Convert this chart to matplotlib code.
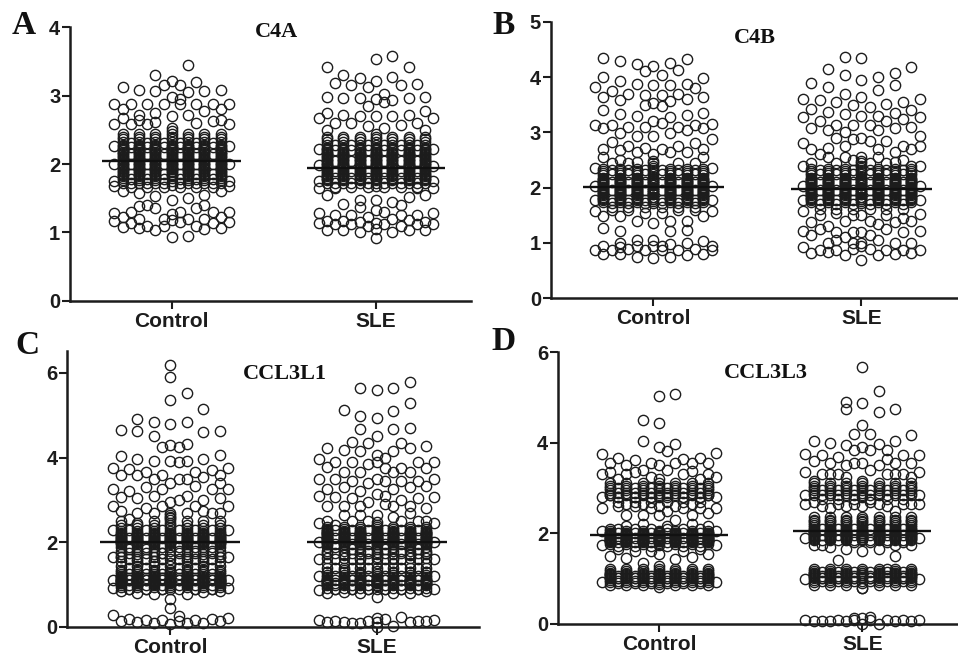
import matplotlib
matplotlib.use("Agg")
import matplotlib.pyplot as plt

W, H = 958, 656
categories = ["Control", "SLE"]
means = {"A": [2.05, 1.94], "B": [2.01, 1.98], "C": [2.0, 2.0], "D": [1.95, 2.06]}
titles = {"A": "C4A", "B": "C4B", "C": "CCL3L1", "D": "CCL3L3"}

# Each group: 15 swarm columns, left to right, holding the readable values
A_control = [
 [2.88,2.58,2.27,2.0,1.75,1.68,1.29,1.16],[3.12,2.8,2.67,1.6,1.22,1.08],[2.88,2.58,1.3,1.13],[3.08,2.72,2.65,1.58,1.38,1.2,1.06],
 [2.88,2.58,1.4,1.1],[3.3,3.07,2.75,2.62,1.53,1.35,1.04],[3.15,2.88,1.2,1.1],[3.22,2.98,2.7,1.47,1.27,1.18,0.93],
 [3.15,2.95,2.88,1.3,1.15],[3.45,3.05,2.72,1.5,1.2,0.95],[3.2,2.88,2.6,1.35,1.1],[3.07,2.78,1.55,1.4,1.2,1.05],
 [2.88,2.63,1.3,1.13],[3.08,2.8,2.65,1.6,1.22,1.07],[2.88,2.58,2.27,2.0,1.75,1.68,1.3,1.15]]
A_control_even = [1.72,1.76,1.8,1.84,1.88,1.92,1.96,2.0,2.04,2.08,2.12,2.16,2.2,2.24,2.28,2.32,2.36,2.4,2.44]
A_control_mid = [1.7,1.75,1.8,1.84,1.88,1.92,1.96,2.0,2.04,2.08,2.12,2.16,2.2,2.24,2.28,2.32,2.36,2.4,2.44,2.48,2.52]
A_control_odd = [1.66,1.72,1.78,1.85,2.0,2.15,2.25,2.3]
A_control_fill = [1.82,1.86,1.9,1.94,1.98,2.02,2.06,2.1,2.14,2.18,2.22,2.26]

A_sle = [
 [2.68,2.22,1.98,1.75,1.65,1.28,1.13],[3.42,2.98,2.75,2.5,1.55,1.17,1.04],[3.18,2.6,1.65,1.25,1.12],[3.3,2.97,2.72,1.42,1.17,1.03],
 [3.15,2.6,1.25,1.12],[3.26,2.96,2.7,1.48,1.37,1.15,1.0],[3.12,2.85,2.55,1.22,1.1],[3.54,3.21,2.95,2.7,1.47,1.32,1.13,1.05,0.92],
 [3.02,2.9,2.52,1.3,1.12],[3.58,3.28,2.94,2.7,1.45,1.2,1.0],[3.16,2.57,1.4,1.25,1.1],[3.42,2.96,2.72,1.52,1.18,1.03],
 [3.17,2.6,1.65,1.25,1.12],[2.98,2.77,2.5,1.55,1.15,1.04],[2.67,2.22,1.97,1.75,1.65,1.29,1.12]]
A_sle_even = [1.72,1.76,1.8,1.84,1.88,1.92,1.96,2.0,2.04,2.08,2.12,2.16,2.2,2.24,2.28,2.32,2.36,2.4]
A_sle_mid = [1.68,1.72,1.76,1.8,1.84,1.88,1.92,1.96,2.0,2.04,2.08,2.12,2.16,2.2,2.24,2.28,2.32,2.36,2.4,2.44]
A_sle_odd = [1.66,1.72,1.8,1.9,2.05,2.2,2.28]
A_sle_fill = [1.78,1.82,1.86,1.9,1.94,1.98,2.02,2.06,2.1,2.14,2.18,2.22]

B_control = [
 [3.82,3.14,2.36,2.03,1.77,1.58,0.88],[4.35,4.0,3.63,3.4,3.07,2.7,2.55,1.48,1.27,0.95,0.8],[3.75,3.13,2.83,2.45,1.6,0.87],[4.29,3.92,3.58,3.34,2.98,2.68,2.5,1.48,1.22,1.0,0.92,0.8],
 [3.7,3.1,2.75,2.45,1.6,0.9],[4.23,3.87,3.3,2.93,2.65,2.47,1.4,1.05,0.95,0.74],[4.11,3.68,3.49,3.1,2.72,1.55,0.87],[4.2,3.86,3.53,3.2,2.93,2.6,1.37,1.05,0.95,0.72],
 [4.03,3.68,3.47,3.17,2.7,1.55,0.95,0.87],[4.25,3.86,3.57,3.28,2.98,2.65,1.4,1.22,0.98,0.74],[4.12,3.7,3.1,2.75,2.45,1.6,0.87],[4.32,3.87,3.6,3.31,3.05,2.65,1.4,1.23,1.0,0.78],
 [3.8,3.13,2.8,2.45,1.6,0.9],[3.98,3.63,3.35,3.07,2.7,2.55,1.48,1.03,0.8],[3.15,2.88,2.35,2.03,1.77,1.58,0.95,0.88]]
B_control_even = [1.74,1.78,1.82,1.86,1.9,1.94,1.98,2.02,2.06,2.1,2.14,2.18,2.22,2.26,2.3,2.34]
B_control_mid = [1.72,1.76,1.8,1.84,1.88,1.92,1.96,2.0,2.04,2.08,2.12,2.16,2.2,2.24,2.28,2.32,2.36,2.4,2.44,2.48]
B_control_odd = [1.65,1.72,1.78,1.95,2.1,2.25,2.32]
B_control_fill = [1.8,1.84,1.88,1.92,1.96,2.0,2.04,2.08,2.12,2.16]

B_sle = [
 [3.6,3.27,2.81,2.4,2.03,1.77,1.58,1.22,0.93],[3.9,3.42,3.08,2.7,2.45,1.38,1.15,0.82],[3.58,3.2,2.6,1.5,1.25,0.87],[4.15,3.82,3.37,3.05,2.72,2.55,1.3,1.0,0.83],
 [3.55,3.13,2.9,2.45,1.55,1.2,1.05,0.88],[4.37,4.03,3.7,3.33,3.0,2.75,2.55,1.4,1.1,0.78],[3.5,3.13,2.88,2.5,1.5,1.2,1.0,0.9],[4.35,3.95,3.63,3.3,2.9,2.55,1.5,1.2,1.0,0.95,0.7],
 [3.45,3.13,2.85,2.45,1.4,1.15,0.9],[4.0,3.76,3.3,3.05,2.7,2.55,1.35,1.05,0.78],[3.52,3.2,2.85,2.45,1.5,1.25,0.87],[4.08,3.85,3.35,3.07,2.65,2.47,1.38,1.0,0.8],
 [3.55,3.25,2.75,2.5,1.45,1.2,0.87],[4.18,3.4,3.1,2.7,2.4,1.4,1.0,0.82],[3.6,3.28,2.93,2.75,2.4,2.03,1.77,1.53,1.22,0.88]]
B_sle_even = [1.74,1.78,1.82,1.86,1.9,1.94,1.98,2.02,2.06,2.1,2.14,2.18,2.22,2.26,2.3,2.34]
B_sle_mid = [1.72,1.76,1.8,1.84,1.88,1.92,1.96,2.0,2.04,2.08,2.12,2.16,2.2,2.24,2.28,2.32,2.36,2.4,2.44,2.48]
B_sle_odd = [1.62,1.7,1.78,1.95,2.1,2.25,2.32]
B_sle_fill = [1.8,1.84,1.88,1.92,1.96,2.0,2.04,2.08,2.12,2.16]

C_control = [
 [3.75,3.25,2.85,2.3,1.65,1.1,0.92,0.28],[4.65,4.03,3.6,3.07,2.75,2.5,1.65,1.2,0.85,0.15],[3.73,3.2,2.55,1.85,1.1,0.9,0.18],[4.9,4.63,3.96,3.6,3.05,2.7,2.45,1.6,1.15,0.8,0.12],
 [3.65,3.3,2.8,1.85,1.1,0.9,0.17],[4.83,4.52,3.92,3.5,3.1,2.7,2.5,1.55,1.2,0.78,0.1],[4.25,3.6,3.25,2.85,1.75,1.15,0.9,0.17],[6.18,5.9,5.37,4.8,4.3,3.92,3.4,2.95,2.7,2.6,1.5,0.65,0.45,0.08],
 [4.25,3.9,3.5,3.0,1.8,1.1,0.27,0.15],[5.53,4.83,4.33,3.93,3.5,3.1,2.7,2.5,1.6,0.78,0.1],[3.65,3.33,2.85,1.8,1.1,0.9,0.16],[5.15,4.6,3.97,3.55,3.0,2.75,2.5,1.6,0.82,0.1],
 [3.7,3.25,2.7,1.8,1.1,0.9,0.2],[4.63,4.05,3.6,3.4,3.05,2.7,2.5,1.65,0.85,0.15],[3.75,3.25,2.85,2.3,1.65,1.1,0.92,0.22]]
C_control_even = [0.95,1.0,1.03,1.06,1.09,1.12,1.15,1.2,1.25,1.3,1.35,1.45,1.55,1.65,1.72,1.8,1.88,1.95,2.0,2.03,2.08,2.12,2.17,2.22,2.27,2.33,2.4]
C_control_mid = [0.9,0.95,1.0,1.03,1.06,1.09,1.12,1.15,1.2,1.25,1.3,1.35,1.45,1.6,1.7,1.8,1.88,1.95,2.0,2.04,2.08,2.12,2.17,2.22,2.27,2.33,2.4,2.46,2.52,2.58,2.64]
C_control_odd = [0.9,1.0,1.1,1.15,1.25,1.4,1.6,1.75,1.9,2.1,2.3]
C_control_fill = [1.05,1.08,1.11,1.14,1.17,1.98,2.02,2.06,2.1,2.15,2.2]

C_sle = [
 [3.97,3.5,3.1,2.45,2.0,1.6,1.2,0.88,0.17],[4.23,3.78,3.25,2.85,2.5,2.3,1.75,1.3,0.8,0.12],[3.9,3.5,3.07,2.4,1.9,1.05,0.9,0.13],[5.13,4.18,3.65,3.3,2.85,2.65,1.7,1.35,0.82,0.12],
 [4.38,3.9,3.45,3.05,2.5,1.85,1.1,0.9,0.1],[5.65,4.98,4.68,4.15,3.65,3.22,2.85,2.65,1.6,1.25,0.8,0.1],[4.35,3.85,3.4,2.95,2.5,1.8,1.1,0.9,0.15],[5.6,4.93,4.5,4.05,3.9,3.5,3.15,2.65,1.6,0.7,0.22,0.12,0.0],
 [4.0,3.75,3.45,3.1,2.9,1.85,1.1,0.9,0.18],[5.65,5.1,4.68,4.15,3.65,3.25,2.85,2.6,1.6,1.3,0.8,0.03],[4.35,3.75,3.45,3.0,2.5,1.8,1.1,0.9,0.23],[5.78,5.3,4.7,4.22,3.65,3.3,2.85,2.7,1.7,1.3,0.8,0.12],
 [3.9,3.45,3.05,2.5,1.85,1.1,0.9,0.15],[4.27,3.75,3.33,2.8,2.5,1.75,1.3,0.85,0.14],[3.9,3.5,3.07,2.45,2.0,1.6,1.2,0.9,0.17]]
C_sle_even = [0.92,0.98,1.02,1.05,1.08,1.12,1.17,1.22,1.3,1.4,1.5,1.62,1.72,1.8,1.88,1.95,2.0,2.03,2.07,2.11,2.15,2.19,2.23,2.27,2.32,2.37]
C_sle_mid = [0.9,0.96,1.0,1.03,1.06,1.09,1.12,1.15,1.2,1.26,1.32,1.4,1.5,1.65,1.72,1.78,1.84,1.9,1.95,2.0,2.03,2.07,2.11,2.15,2.19,2.23,2.27,2.32,2.37,2.42,2.47]
C_sle_odd = [0.9,1.0,1.1,1.2,1.4,1.6,1.75,1.95,2.1,2.3]
C_sle_fill = [1.04,1.07,1.1,1.14,1.97,2.01,2.05,2.09,2.13,2.17,2.21,2.25]

D_control = [
 [3.75,3.3,2.8,2.55,2.05,1.75,0.93],[3.55,3.35,2.85,2.1,1.5,1.1,0.85],[3.67,3.2,2.8,2.6,1.65,1.0],[3.5,3.3,2.65,2.4,2.15,1.45,0.85],
 [3.62,3.35,2.8,2.6,1.6,1.0],[4.5,4.05,3.4,2.65,2.4,2.2,1.35,0.85],[3.55,3.25,2.8,2.55,1.6,1.0],[5.03,4.43,3.9,3.5,3.2,2.6,2.4,1.55,1.28,0.82],
 [3.82,3.4,2.85,2.5,2.15,1.0],[5.08,3.97,3.55,2.6,2.3,1.42,0.85],[3.65,3.3,2.8,2.55,1.6,1.0],[3.55,3.37,2.65,2.4,2.2,1.47,0.85],
 [3.67,3.2,2.8,2.55,1.65,1.0],[3.55,3.3,2.85,2.45,2.15,1.55,0.85],[3.77,3.25,2.8,2.55,2.05,1.75,0.93]]
D_control_even = [0.92,0.96,1.0,1.04,1.08,1.12,1.16,1.2,1.76,1.8,1.83,1.86,1.89,1.92,1.95,1.98,2.01,2.04,2.85,2.9,2.95,3.0,3.05,3.1]
D_control_mid = [0.88,0.92,0.96,1.0,1.04,1.08,1.12,1.16,1.2,1.74,1.78,1.82,1.85,1.88,1.91,1.94,1.97,2.0,2.03,2.06,2.8,2.85,2.9,2.95,3.0,3.05,3.1]
D_control_odd = [0.9,0.95,1.0,1.05,1.72,1.8,1.9,2.0,2.1,2.7,2.8,2.9,3.0]
D_control_fill = [1.82,1.84,1.88,1.9,1.94,1.96,2.0,1.02,1.06,1.1]

D_sle = [
 [3.75,3.35,2.85,2.65,1.9,0.98,0.08],[4.03,3.6,3.15,2.7,1.75,0.85,0.07],[3.72,3.3,2.6,1.75,1.0,0.07],[4.0,3.55,3.3,2.55,1.7,0.85,0.05],
 [3.68,3.3,2.65,1.4,1.0,0.08],[4.9,4.75,3.95,3.5,3.25,2.6,1.65,0.85,0.05],[4.2,3.85,3.55,2.65,1.8,1.0,0.13,0.08],[5.67,4.87,4.4,3.9,3.55,2.6,1.6,0.8,0.78,0.12,0.0],
 [4.2,3.85,3.4,2.7,1.8,1.0,0.15,0.08],[5.15,4.67,3.97,3.5,2.65,1.65,0.85,0.0],[3.85,3.65,3.3,2.6,1.8,1.2,0.08],[4.75,4.03,3.55,3.3,2.5,1.75,1.5,0.85,0.05],
 [3.72,3.3,2.65,1.8,1.0,0.08],[4.17,3.55,3.25,2.65,1.75,0.85,0.07],[3.72,3.35,2.85,2.65,1.9,0.98,0.08]]
D_sle_even = [0.93,0.97,1.01,1.05,1.09,1.13,1.17,1.21,1.86,1.9,1.94,1.98,2.02,2.06,2.1,2.14,2.18,2.22,2.26,2.3,2.35,2.85,2.9,2.95,3.0,3.05,3.1]
D_sle_mid = [0.9,0.95,1.0,1.04,1.08,1.12,1.16,1.2,1.84,1.88,1.92,1.96,2.0,2.04,2.08,2.12,2.16,2.2,2.24,2.28,2.32,2.36,2.8,2.85,2.9,2.95,3.0,3.05,3.1,3.15]
D_sle_odd = [0.95,1.0,1.05,1.15,1.85,1.95,2.1,2.75,2.85,2.95]
D_sle_fill = [1.03,1.07,1.11,1.88,1.92,1.96,2.0,2.04,2.08]

groups = {
 "A": [(A_control,A_control_even,A_control_mid,A_control_odd,A_control_fill),(A_sle,A_sle_even,A_sle_mid,A_sle_odd,A_sle_fill)],
 "B": [(B_control,B_control_even,B_control_mid,B_control_odd,B_control_fill),(B_sle,B_sle_even,B_sle_mid,B_sle_odd,B_sle_fill)],
 "C": [(C_control,C_control_even,C_control_mid,C_control_odd,C_control_fill),(C_sle,C_sle_even,C_sle_mid,C_sle_odd,C_sle_fill)],
 "D": [(D_control,D_control_even,D_control_mid,D_control_odd,D_control_fill),(D_sle,D_sle_even,D_sle_mid,D_sle_odd,D_sle_fill)],
}

# pixel layout: spine x, right end, baseline y, top y, ymax, y ticks, control x, SLE x
layout = {
 "A": (70, 471, 300.7, 27.3, 4, [0,1,2,3,4], 171.7, 376),
 "B": (550.7, 958, 298.3, 21.7, 5, [0,1,2,3,4,5], 653.3, 861.3),
 "C": (67.3, 479, 627, 351.3, 6.51, [0,2,4,6], 170.3, 376.7),
 "D": (558, 958, 623.7, 352.3, 6, [0,2,4,6], 659, 862.3),
}
title_px = {"A": (277, 32), "B": (755, 38), "C": (285, 374), "D": (766, 373)}
letter_px = {"A": (24, 26), "B": (504, 25), "C": (27, 346), "D": (504, 341)}

STEP = 0.04
INK = "#1c1c1c"
fig = plt.figure(figsize=(W/100, H/100), dpi=100)

for key in "ABCD":
    x0, x1, yb, yt, ymax, yticks, c1, c2 = layout[key]
    ax = fig.add_axes([x0/W, 1-yb/H, (x1-x0)/W, (yb-yt)/H])
    ax.set_ylim(0, ymax)
    ax.set_xlim(1+(x0-c1)/(c2-c1), 1+(x1-c1)/(c2-c1))
    for i, (cols, even, mid, odd, fill) in enumerate(groups[key]):
        for j, col in enumerate(cols):
            k = j-7
            if k == 0:
                vals = col+mid+fill
            elif abs(k) == 7:
                vals = col
            elif k % 2 == 0:
                vals = col+even+fill
            else:
                vals = col+odd
            ax.plot([i+1+k*STEP]*len(vals), vals, ls="none", marker="o", ms=7.4, mfc="none",
                    mec=INK, mew=1.0, clip_on=False, zorder=3)
        ax.plot([i+1-0.34, i+1+0.34], [means[key][i]]*2, color="#111111", lw=1.7, zorder=4,
                solid_capstyle="butt")
    for s in ("top", "right"):
        ax.spines[s].set_visible(False)
    for s in ("left", "bottom"):
        ax.spines[s].set_linewidth(1.8)
        ax.spines[s].set_color(INK)
    ax.patch.set_alpha(0)
    ax.set_xticks([1, 2], categories)
    ax.set_yticks(yticks)
    ax.tick_params(axis="x", length=5.5, width=1.5, color=INK, pad=2.5, labelsize=15, labelcolor=INK)
    ax.tick_params(axis="y", length=5.5, width=1.5, color=INK, pad=1.5, labelsize=14.5, labelcolor=INK)
    for t in ax.get_xticklabels()+ax.get_yticklabels():
        t.set_fontfamily("Liberation Sans")
        t.set_fontweight("bold")
    tx, ty = title_px[key]
    fig.text(tx/W, 1-ty/H, titles[key], family="Liberation Serif", weight="bold", fontsize=16,
             ha="center", va="center", color="#111111")
    lx, ly = letter_px[key]
    fig.text(lx/W, 1-ly/H, key, family="Liberation Serif", weight="bold", fontsize=24,
             ha="center", va="center", color="#111111")

fig.savefig("out.png", dpi=100)
